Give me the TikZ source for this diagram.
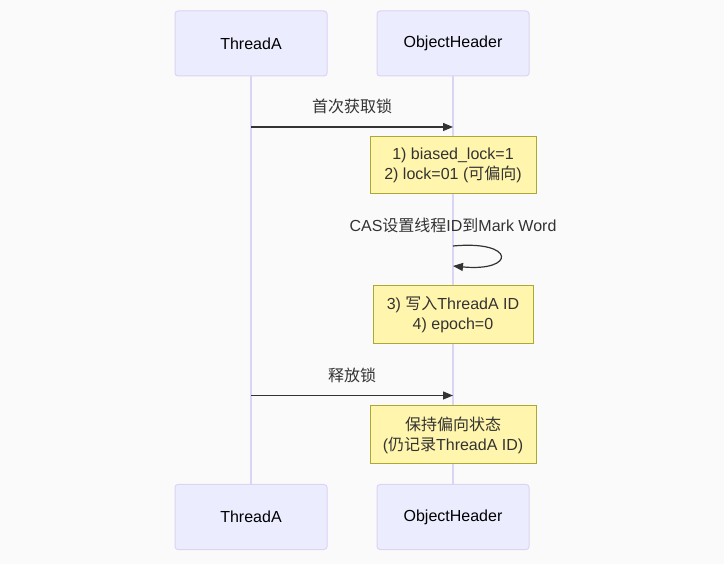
\documentclass[tikz,border=0pt]{standalone}
\usepackage{fontspec}
\setmainfont{Liberation Sans}
\newfontfamily\cjk{Noto Sans CJK SC}
\usetikzlibrary{arrows.meta,backgrounds}
\definecolor{actorfill}{HTML}{ECECFF}
\definecolor{actorline}{HTML}{DCD3F5}
\definecolor{notefill}{HTML}{FFF5AD}
\definecolor{noteline}{HTML}{AAAA33}
\definecolor{msgline}{HTML}{333333}
\definecolor{bgcol}{HTML}{FAFAFA}
\begin{document}
\begin{tikzpicture}[x=1pt,y=-1pt,
    actor/.style={draw=actorline,fill=actorfill,line width=1pt,rounded corners=3pt,
      minimum width=152pt,minimum height=65pt,inner sep=0pt,
      font=\fontsize{16}{19}\selectfont},
    note/.style={draw=noteline,fill=notefill,line width=1pt,align=center,inner sep=0pt,
      minimum height=57pt,font=\fontsize{16}{20}\selectfont,text=msgline},
    msg/.style={draw=msgline,line width=1.2pt,-{Triangle[length=10pt,width=8pt]}},
    msglabel/.style={font=\fontsize{16}{19}\selectfont,text=msgline,inner sep=0pt},
    life/.style={draw=actorline,line width=1.5pt}]
  \useasboundingbox (0,0) rectangle (724,564);
  % actors, top and bottom
  \node[actor] (thrTop) at (251,43.5) {ThreadA};
  \node[actor] (objTop) at (453,43.5) {ObjectHeader};
  \node[actor] (thrBot) at (251,517) {ThreadA};
  \node[actor] (objBot) at (453,517) {ObjectHeader};
  % lifelines behind everything
  \begin{scope}[on background layer]
    \fill[bgcol] (0,0) rectangle (724,564);
    \draw[life] (thrTop.south) -- (thrBot.north);
    \draw[life] (objTop.south) -- (objBot.north);
  \end{scope}
  % points on the lifelines
  \coordinate (thrA) at (251,127);
  \coordinate (objA) at (453,127);
  \coordinate (selfS) at (453,246);
  \coordinate (selfE) at (453,266);
  \coordinate (thrB) at (251,395.5);
  \coordinate (objB) at (453,395.5);
  % first acquire
  \node[msglabel] (lblA) at (352,106) {\cjk 首次获取锁};
  \draw[msg] (thrA) -- (objA);
  \node[note,minimum width=166pt] (noteA) at (453,165.5)
    {1) biased\_lock=1\\2) lock=01 ({\cjk 可偏向})};
  % CAS on itself
  \node[msglabel] (lblSelf) at (453,225) {CAS{\cjk 设置线程}ID{\cjk 到}Mark Word};
  \draw[msg] (selfS) .. controls (516,240) and (516,272) .. (selfE);
  \node[note,minimum width=160pt,minimum height=58pt] (noteB) at (453,315)
    {3) {\cjk 写入}ThreadA ID\\4) epoch=0};
  % release
  \node[msglabel] (lblB) at (352,375) {\cjk 释放锁};
  \draw[msg] (thrB) -- (objB);
  \node[note,minimum width=166pt,minimum height=58pt] (noteC) at (453,435)
    {{\cjk 保持偏向状态}\\({\cjk 仍记录}ThreadA ID)};
\end{tikzpicture}
\end{document}
